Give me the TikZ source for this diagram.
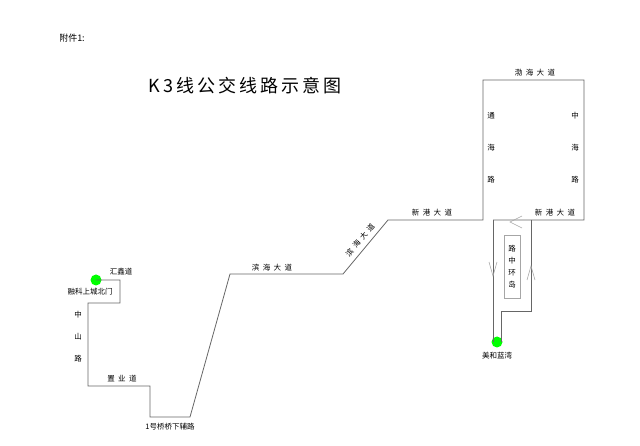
\documentclass[tikz,border=0pt]{standalone}
\usepackage{fontspec}
\setmainfont{Noto Sans CJK SC}
\begin{document}
\begin{tikzpicture}[x=1pt,y=-1pt,
  route/.style={draw=gray!80!black,line width=0.8pt},
  lbl/.style={font=\fontsize{7.5}{8}\selectfont,inner sep=0pt},
  chev/.style={draw=gray!70,line width=0.6pt},
  stop/.style={circle,fill=green,inner sep=0pt,minimum size=11pt}]
\useasboundingbox (0,0) rectangle (640,446);
\node[inner sep=0pt,font=\fontsize{9}{10}\selectfont] (att) at (72,38) {附件1:};
\node[inner sep=0pt,font=\fontsize{18}{20}\selectfont] (title) at (245,86) {K\,3\,线\,公\,交\,线\,路\,示\,意\,图};
% left route
\node[stop] (s1) at (96,280) {};
\draw[route] (s1.center) -- (120,280) -- (120,303) -- (88,303) -- (88,386) -- (150,386) -- (150,417) -- (190,417) -- (230,274) -- (343,274) -- (388,220) -- (483,220) -- (483,80) -- (584,80) -- (584,220) -- (493,220);
\node[stop] (s2) at (497,342) {};
\draw[route] (493,220) -- (493,342);
\draw[route] (531,220) -- (531,311) -- (501,311) -- (501,342);
% chevrons
\draw[chev] (522,216) -- (510,222) -- (522,228);
\draw[chev] (489,262) -- (493,276) -- (497,262);
\draw[chev] (527,280) -- (531,266) -- (535,280);
% island
\node[draw=gray!70,line width=0.5pt,minimum width=16pt,minimum height=63pt,inner sep=0pt,
  font=\fontsize{7.5}{12}\selectfont,align=center] (island) at (512,266.5) {路\\中\\环\\岛};
% labels
\node[lbl] (l1) at (535,73) {渤\ \ 海\ \ 大\ \ 道};
\node[lbl,align=center,font=\fontsize{7.5}{32}\selectfont] (l2) at (491,148) {通\\海\\路};
\node[lbl,align=center,font=\fontsize{7.5}{32}\selectfont] (l3) at (575,148) {中\\海\\路};
\node[lbl] (l4) at (555,213) {新\ \ 港\ \ 大\ \ 道};
\node[lbl] (l5) at (432,213) {新\ \ 港\ \ 大\ \ 道};
\node[lbl,rotate=50] (l6) at (360,240) {滨\ \ 海\ \ 大\ \ 道};
\node[lbl] (l7) at (272,268) {滨\ \ 海\ \ 大\ \ 道};
\node[lbl] (l8) at (121,272) {汇鑫道};
\node[lbl] (l9) at (90,292) {融科上城北门};
\node[lbl,align=center,font=\fontsize{7.5}{22}\selectfont] (l10) at (78,337) {中\\山\\路};
\node[lbl] (l11) at (122,379) {置\ \ 业\ \ 道};
\node[lbl] (l12) at (170,427) {1号桥桥下辅路};
\node[lbl] (l13) at (497,356) {美和蓝湾};
\end{tikzpicture}
\end{document}
